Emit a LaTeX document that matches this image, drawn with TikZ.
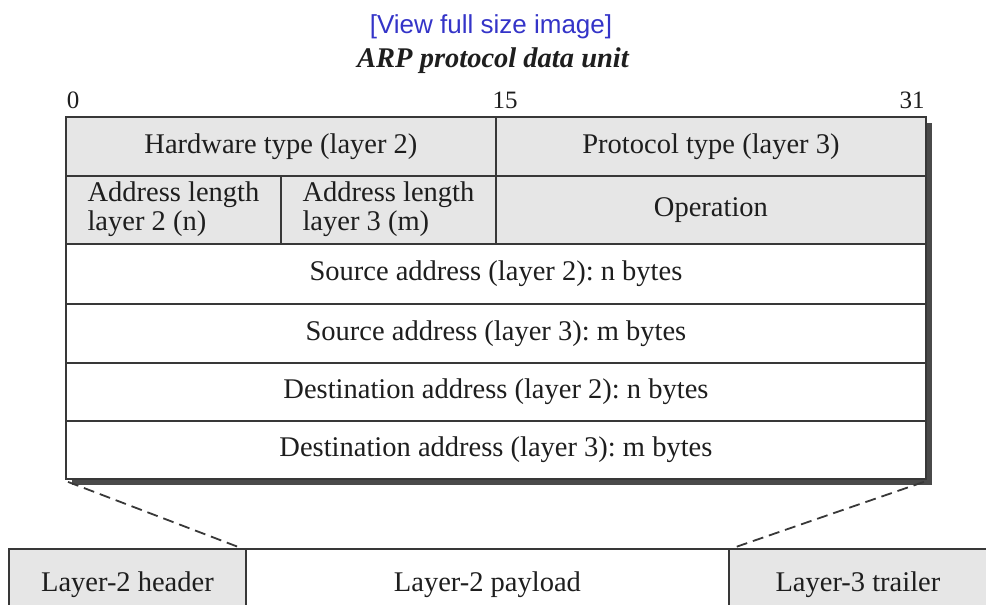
\documentclass[tikz,border=0pt]{standalone}
\usepackage{fontspec}
\setmainfont{Liberation Serif}
\newfontfamily\linkfont{Liberation Sans}
\definecolor{cellgray}{HTML}{E6E6E6}
\definecolor{rulec}{HTML}{383838}
\definecolor{shadowc}{HTML}{4A4A4A}
\definecolor{inkc}{HTML}{1E1E1E}
\definecolor{linkblue}{HTML}{3434C8}
\newcommand{\twolines}[2]{\begin{tabular}{@{}l@{}}#1\\#2\end{tabular}}
\begin{document}
\frenchspacing
\begin{tikzpicture}[x=1pt,y=-1pt,
  cell/.style={draw=rulec, line width=1.9pt, fill=cellgray, anchor=north west, text=inkc,
    inner sep=0pt, minimum height=#1, font=\fontsize{28.5}{29}\selectfont},
  cell/.default=59,
  plain/.style={cell=#1, fill=white},
  plain/.default=59,
  bitno/.style={font=\fontsize{25}{25}\selectfont, text=inkc, anchor=base, inner sep=0pt},
  zoomline/.style={draw=rulec, line width=1.8pt, dash pattern=on 11pt off 6pt}]
\useasboundingbox (0,0) rectangle (986,605);
\clip (0,0) rectangle (986,605);

% heading
\node[font=\linkfont\fontsize{26}{26}\selectfont, text=linkblue, anchor=base, inner sep=0pt] (link) at (491,33) {[View full size image]};
\node[font=\fontsize{28.5}{29}\selectfont\bfseries\itshape, text=inkc, anchor=base, inner sep=0pt] (title) at (493,67) {ARP protocol data unit};

% bit positions
\node[bitno] (b0) at (73,108) {0};
\node[bitno] (b15) at (505,108) {15};
\node[bitno] (b31) at (912,108) {31};

% drop shadow of the packet
\fill[shadowc] (72,123) rectangle (932,485);

% packet fields
\node[cell, minimum width=430] (hw) at (65,116) {Hardware type (layer 2)};
\node[cell, minimum width=430] (pt) at (495,116) {Protocol type (layer 3)};
\node[cell=68, minimum width=215] (al2) at (65,175) {\twolines{Address length}{layer 2 (n)}};
\node[cell=68, minimum width=215] (al3) at (280,175) {\twolines{Address length}{layer 3 (m)}};
\node[cell=68, minimum width=430] (op) at (495,175) {Operation};
\node[plain=60, minimum width=860] (sa2) at (65,243) {Source address (layer 2): n bytes};
\node[plain=59, minimum width=860] (sa3) at (65,303) {Source address (layer 3): m bytes};
\node[plain=58, minimum width=860] (da2) at (65,362) {Destination address (layer 2): n bytes};
\node[plain=58, minimum width=860] (da3) at (65,420) {Destination address (layer 3): m bytes};

% layer-2 frame carrying the packet
\node[cell=72, minimum width=237] (hdr) at (8,548) {Layer-2 header};
\node[plain=72, minimum width=483] (pay) at (245,548) {Layer-2 payload};
\node[cell=72, minimum width=290] (trl) at (728,548) {\hspace*{-32pt}Layer-3 trailer};

% expansion lines
\draw[zoomline] ([xshift=3pt,yshift=-2pt]da3.south west) -- ([xshift=-4pt]pay.north west);
\draw[zoomline] ([xshift=-3pt,yshift=-2pt]da3.south east) -- ([xshift=3pt]pay.north east);
\end{tikzpicture}
\end{document}
